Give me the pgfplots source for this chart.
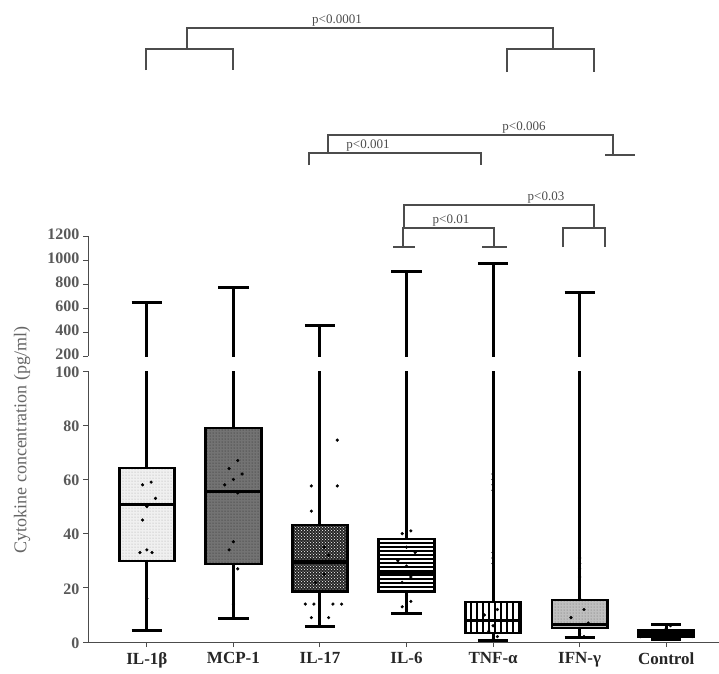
\documentclass[border=0pt]{standalone}
\usepackage{fontspec}
\setmainfont{Liberation Serif}
\usepackage{pgfplots}
\pgfplotsset{compat=1.18}
\usetikzlibrary{patterns}

\pgfdeclarepatternformonly{thickvlines}{\pgfqpoint{-1pt}{-1pt}}{\pgfqpoint{7pt}{7pt}}{\pgfqpoint{6pt}{6pt}}{%
  \pgfsetlinewidth{2.6pt}\pgfpathmoveto{\pgfqpoint{3pt}{-1pt}}\pgfpathlineto{\pgfqpoint{3pt}{7pt}}\pgfusepath{stroke}}
\pgfdeclarepatternformonly{hlinesB}{\pgfqpoint{-1pt}{-1pt}}{\pgfqpoint{5pt}{5pt}}{\pgfqpoint{4pt}{4pt}}{%
  \pgfsetlinewidth{1.2pt}\pgfpathmoveto{\pgfqpoint{-1pt}{2pt}}\pgfpathlineto{\pgfqpoint{5pt}{2pt}}\pgfusepath{stroke}}

\pgfplotsset{
  brk/.style={
    scale only axis, width=631pt,
    xmin=-0.68, xmax=6.61,
    axis line style={black!70, line width=1pt},
    tick style={black!70, line width=1pt},
    tick align=outside, major tick length=5pt,
    yticklabel style={font=\fontsize{16}{16}\selectfont\bfseries, text=black!65, inner sep=0.5pt, xshift=-3pt},
    /pgf/number format/assume math mode=true,
    /pgf/number format/1000 sep={},
  },
  wh/.style={black, line width=3pt, mark=none},
  bx/.style={draw=black, line width=2.8pt, line join=miter, mark=none},
  md/.style={black, line width=3.2pt, mark=none},
  pts/.style={only marks, mark=*, mark size=1.4pt, black},
}

\begin{document}
\begin{tikzpicture}
\useasboundingbox (0,0) rectangle (719pt,-673pt);

% upper segment 200-1200
\begin{axis}[brk, at={(88pt,-356pt)}, anchor=south west, height=120pt,
  ymin=200, ymax=1200, ytick={200,400,600,800,1000,1200},
  yticklabel style={yshift=1.5pt},
  axis x line=none, axis y line*=left]
  \addplot[wh] coordinates {(0,64.2) (0,650)};
  \addplot[wh] coordinates {(-0.175,650) (0.175,650)};
  \addplot[wh] coordinates {(1,79) (1,775)};
  \addplot[wh] coordinates {(0.825,775) (1.175,775)};
  \addplot[wh] coordinates {(2,43.2) (2,458)};
  \addplot[wh] coordinates {(1.825,458) (2.175,458)};
  \addplot[wh] coordinates {(3,38) (3,908)};
  \addplot[wh] coordinates {(2.825,908) (3.175,908)};
  \addplot[wh] coordinates {(4,14.8) (4,975)};
  \addplot[wh] coordinates {(3.825,975) (4.175,975)};
  \addplot[wh] coordinates {(5,15.5) (5,733)};
  \addplot[wh] coordinates {(4.825,733) (5.175,733)};
\end{axis}

% lower segment 0-100
\begin{axis}[brk, at={(88pt,-642pt)}, anchor=south west, height=271pt,
  ymin=0, ymax=100, ytick={0,20,40,60,80,100},
  yticklabel style={yshift=-1pt},
  axis x line*=bottom, axis y line*=left,
  xtick={0,1,2,3,4,5,6},
  xticklabels={IL-1β, MCP-1, IL-17, IL-6, TNF-α, IFN-γ, Control},
  xticklabel style={font=\fontsize{17}{17}\selectfont\bfseries, text=black!85, yshift=-2pt}]
  % whiskers
  \addplot[wh] coordinates {(0,4.1) (0,650)};
  \addplot[wh] coordinates {(-0.175,4.1) (0.175,4.1)};
  \addplot[wh] coordinates {(1,8.5) (1,775)};
  \addplot[wh] coordinates {(0.825,8.5) (1.175,8.5)};
  \addplot[wh] coordinates {(2,5.9) (2,458)};
  \addplot[wh] coordinates {(1.825,5.9) (2.175,5.9)};
  \addplot[wh] coordinates {(3,10.7) (3,908)};
  \addplot[wh] coordinates {(2.825,10.7) (3.175,10.7)};
  \addplot[wh] coordinates {(4,0.5) (4,975)};
  \addplot[wh] coordinates {(3.825,0.5) (4.175,0.5)};
  \addplot[wh] coordinates {(5,1.8) (5,733)};
  \addplot[wh] coordinates {(4.825,1.8) (5.175,1.8)};
  \addplot[wh] coordinates {(6,0.8) (6,6.5)};
  \addplot[wh] coordinates {(5.825,0.8) (6.175,0.8)};
  \addplot[wh] coordinates {(5.825,6.5) (6.175,6.5)};
  % boxes
  \addplot[bx, fill=black!6, postaction={pattern=dots, pattern color=black!35}] coordinates {(-0.32,29.9) (0.32,29.9) (0.32,64.2) (-0.32,64.2)} -- cycle;
  \addplot[bx, fill=black!55, postaction={pattern=dots, pattern color=black!85}] coordinates {(0.68,28.8) (1.32,28.8) (1.32,79) (0.68,79)} -- cycle;
  \addplot[bx, fill=black!85, postaction={pattern=crosshatch dots, pattern color=white}] coordinates {(1.68,18.5) (2.32,18.5) (2.32,43.2) (1.68,43.2)} -- cycle;
  \addplot[bx, fill=white, postaction={pattern=hlinesB, pattern color=black}] coordinates {(2.68,18.5) (3.32,18.5) (3.32,38) (2.68,38)} -- cycle;
  \addplot[bx, fill=white, postaction={pattern=thickvlines, pattern color=black}] coordinates {(3.68,3.3) (4.32,3.3) (4.32,14.8) (3.68,14.8)} -- cycle;
  \addplot[bx, fill=black!25, postaction={pattern=dots, pattern color=black!60}] coordinates {(4.68,5.2) (5.32,5.2) (5.32,15.5) (4.68,15.5)} -- cycle;
  \addplot[bx, fill=black] coordinates {(5.68,2) (6.32,2) (6.32,4.2) (5.68,4.2)} -- cycle;
  % medians
  \addplot[md] coordinates {(-0.32,50.6) (0.32,50.6)};
  \addplot[md] coordinates {(0.68,55.4) (1.32,55.4)};
  \addplot[md] coordinates {(1.68,29.5) (2.32,29.5)};
  \addplot[md] coordinates {(2.68,25.8) (3.32,25.8)};
  \addplot[md] coordinates {(3.68,8) (4.32,8)};
  \addplot[md] coordinates {(4.68,6.5) (5.32,6.5)};
  \addplot[md] coordinates {(5.68,3) (6.32,3)};
  % individual values
  \addplot[pts] coordinates {(0.05,59) (-0.05,58) (0.1,53) (0,50) (-0.05,45) (0,34) (0.06,33) (-0.08,33) (0,16)};
  \addplot[pts] coordinates {(1.05,67) (0.95,64) (1.1,62) (1,60) (0.9,58) (1.05,55) (1,37) (0.95,34) (1.05,27) (1,14)};
  \addplot[pts] coordinates {(2.2,74.5) (2.2,57.6) (1.9,57.6) (1.9,48.3) (2.05,35) (2.1,32) (1.9,30) (2.05,25) (1.95,22) (1.83,14) (1.93,14) (2.15,14) (2.25,14) (1.9,9) (2.1,9)};
  \addplot[pts] coordinates {(3.05,41) (2.95,40) (3,35) (3.1,33) (2.9,30) (3,28) (3.05,24) (2.95,22) (3,17) (3.05,15) (2.95,13) (3,12)};
  \addplot[pts] coordinates {(4,62) (4,60) (4,58) (4,56) (4,33) (4,31) (4,29) (4.05,12) (3.9,10) (4.1,8) (4,6) (3.95,4) (4.05,2) (4,1)};
  \addplot[pts] coordinates {(5,31) (5,29) (5,27) (5,24) (5,16) (5.05,12) (4.9,9) (5.1,7) (5,5) (5,3) (5.05,2)};
  \addplot[pts] coordinates {(5.7,2) (5.8,3) (5.9,4) (6,5) (6.1,4) (6.2,3) (6.3,2) (5.85,2.5) (6.05,6) (6.15,2.5) (6,3.5) (5.95,1.5) (6.1,1.2)};
\end{axis}

\node[rotate=90, font=\fontsize{18}{18}\selectfont, text=black!60] at (22pt,-440pt) {Cytokine concentration (pg/ml)};

% significance brackets
\begin{scope}[x=1pt, y=-1pt, line width=1.2pt, draw=black!70]
  \tikzset{pv/.style={font=\fontsize{13}{13}\selectfont, text=black!70, anchor=south, inner sep=1.5pt}}
  % p<0.0001
  \draw (187,49) -- (187,28) -- (553,28) -- (553,49);
  \draw (146,70) -- (146,49) -- (233,49) -- (233,70);
  \draw (507,72) -- (507,49) -- (594,49) -- (594,72);
  \node[pv] at (337,28) {p<0.0001};
  % p<0.006
  \draw (328,153) -- (328,135) -- (613,135) -- (613,155);
  \draw (605,155) -- (635,155);
  \node[pv] at (524,135) {p<0.006};
  % p<0.001
  \draw (309,165) -- (309,153) -- (481,153) -- (481,165);
  \node[pv] at (368,153) {p<0.001};
  % p<0.03
  \draw (404,228) -- (404,205) -- (594,205) -- (594,228);
  \draw (563,247) -- (563,228) -- (605,228) -- (605,247);
  \node[pv] at (546,205) {p<0.03};
  % p<0.01
  \draw (403,247) -- (403,228) -- (494,228) -- (494,247);
  \draw (393,247) -- (415,247);
  \draw (482,247) -- (507,247);
  \node[pv] at (451,228) {p<0.01};
\end{scope}
\end{tikzpicture}
\end{document}
